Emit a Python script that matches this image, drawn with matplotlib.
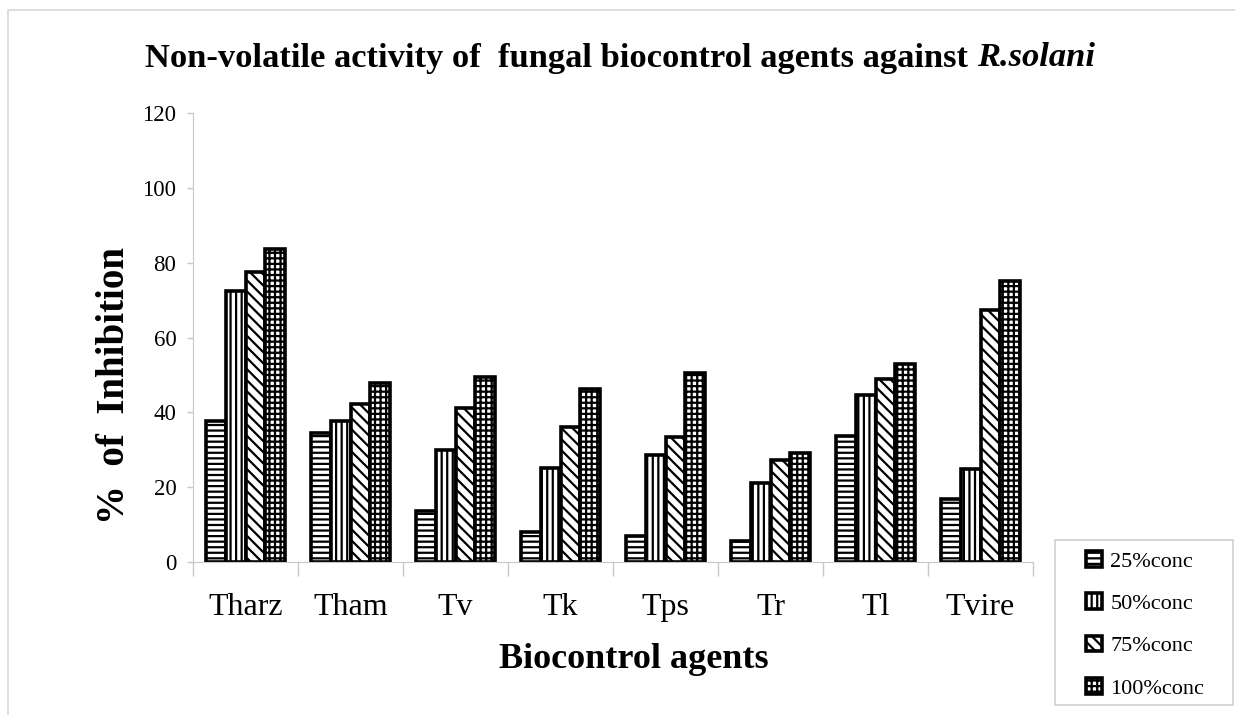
import matplotlib.pyplot as plt
import numpy as np
from matplotlib.patches import Rectangle

plt.rcParams['font.family'] = 'Liberation Serif'
plt.rcParams['hatch.linewidth'] = 1.6

# data
agents = ["Tharz", "Tham", "Tv", "Tk", "Tps", "Tr", "Tl", "Tvire"]
conc_labels = ["25%conc", "50%conc", "75%conc", "100%conc"]
conc25 = [37.7, 34.5, 13.6, 8.0, 7.0, 5.5, 33.8, 16.8]
conc50 = [72.4, 37.7, 29.9, 25.0, 28.5, 21.0, 44.5, 24.9]
conc75 = [77.5, 42.2, 41.2, 36.0, 33.5, 27.2, 49.0, 67.3]
conc100 = [83.6, 47.8, 49.4, 46.2, 50.5, 29.0, 53.0, 75.1]
yticks = [0, 20, 40, 60, 80, 100, 120]

series = [conc25, conc50, conc75, conc100]
hatches = ['---', '|||', '\\\\\\', '+++']

W, H = 1235, 715
fig = plt.figure(figsize=(W / 100, H / 100), dpi=100)
ax = fig.add_axes([193 / W, 1 - 562 / H, 840 / W, 449 / H])

x = np.arange(len(agents))
w = 0.19
for i, vals in enumerate(series):
    ax.bar(x + (i - 1.5) * w, vals, w, facecolor='white', edgecolor='black',
           linewidth=2.6, hatch=hatches[i], label=conc_labels[i])

ax.set_xlim(-0.5, len(agents) - 0.5)
ax.set_ylim(0, 120)
ax.set_yticks(yticks)
ax.tick_params(axis='y', labelsize=16.5, color='#c8c8c8', length=4, width=1, pad=8)
ax.set_xticks(x)
ax.set_xticklabels(agents, fontsize=23)
ax.tick_params(axis='x', length=0, pad=22)
ax.set_xticks(np.arange(len(agents) + 1) - 0.5, minor=True)
ax.tick_params(axis='x', which='minor', length=10, color='#c8c8c8', width=1)
for s in ['top', 'right']:
    ax.spines[s].set_visible(False)
for s in ['left', 'bottom']:
    ax.spines[s].set_color('#c8c8c8')

fig.text(115 / W, 1 - 386 / H, "%  of  Inhibition", rotation=90, ha='center', va='center',
         fontsize=28, fontweight='bold')
fig.text(634 / W, 1 - 660 / H, "Biocontrol agents", ha='center', va='center',
         fontsize=26, fontweight='bold')

# title: plain part + italic species name
t1 = fig.text(0, 1 - 58 / H, "Non-volatile activity of  fungal biocontrol agents against ",
              ha='left', va='center', fontsize=24.8, fontweight='bold')
t2 = fig.text(0, 1 - 58 / H, "R.solani", ha='left', va='center', fontsize=24.8,
              fontweight='bold', style='italic')
r = fig.canvas.get_renderer()
w1 = t1.get_window_extent(r).width
w2 = t2.get_window_extent(r).width
x0 = 620 - (w1 + w2) / 2
t1.set_x(x0 / W)
t2.set_x((x0 + w1) / W)

# legend with its own frame
fig.patches.append(Rectangle((1055 / W, 1 - 705 / H), 178 / W, 165 / H,
                             transform=fig.transFigure, fill=False,
                             edgecolor='#d0d0d0', linewidth=1.2))
leg = ax.legend(loc='upper left', bbox_to_anchor=(1086 / W, 1 - 551 / H),
                bbox_transform=fig.transFigure, fontsize=16, frameon=False,
                handlelength=0.7, handleheight=0.7, labelspacing=0.98, borderpad=0,
                handletextpad=0.4, borderaxespad=0)

# outer chart border
fig.patches.append(Rectangle((8 / W, -0.1), 1.2, 1 - 10 / H + 0.1,
                             transform=fig.transFigure, fill=False,
                             edgecolor='#d8d8d8', linewidth=1.2))

plt.savefig('out.png', dpi=100)
